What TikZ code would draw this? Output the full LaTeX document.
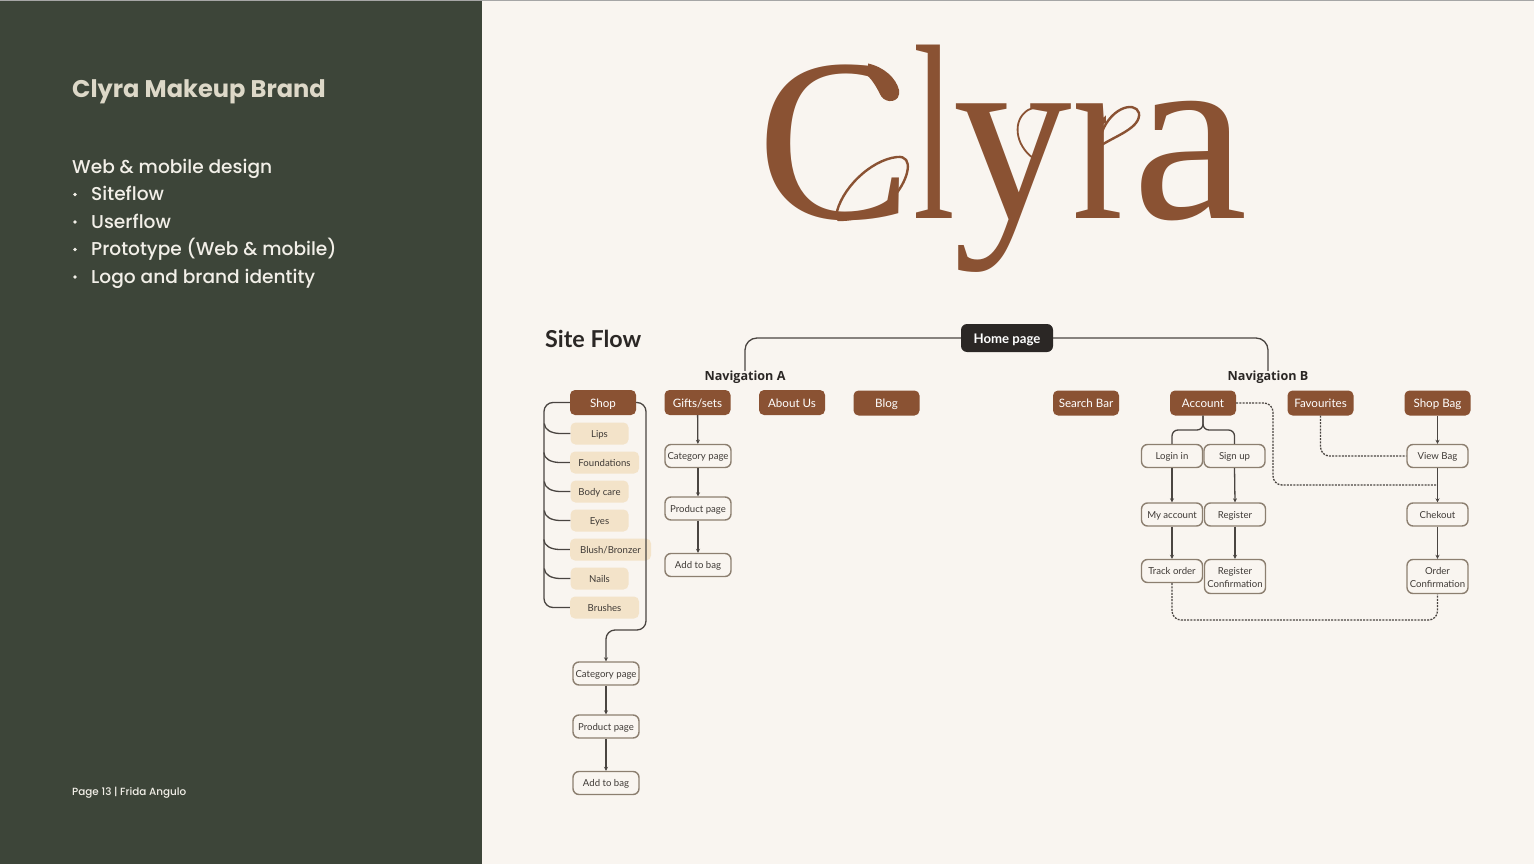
\documentclass[tikz,border=0pt]{standalone}
\usepackage{fontspec}
\usetikzlibrary{arrows.meta}
\setmainfont{Lato}
\newfontfamily\popf{Poppins}[UprightFont=* Medium,BoldFont=* Bold]
\newfontfamily\logof{Liberation Serif}
\newfontfamily\navf{Open Sans}[BoldFont=* Bold]
\definecolor{panel}{HTML}{3D4539}
\definecolor{paper}{HTML}{F9F5F0}
\definecolor{brownc}{HTML}{8A5233}
\definecolor{creamc}{HTML}{F3E3C9}
\definecolor{darkc}{HTML}{2B2725}
\definecolor{boxtxt}{HTML}{3F3A36}
\definecolor{linec}{HTML}{4A4541}
\definecolor{outl}{HTML}{8C7F70}
\definecolor{titlec}{HTML}{DDD8C8}
\definecolor{lefttxt}{HTML}{F2EFE8}
\tikzset{
  brownbox/.style={draw=none,fill=brownc,text=white,rounded corners=5pt,minimum width=66pt,minimum height=25pt,inner sep=0pt,text height=9.6pt,text depth=0pt,font=\fontsize{11.6}{14}\selectfont},
  creambox/.style={draw=none,fill=creamc,text=boxtxt,rounded corners=5pt,minimum height=22pt,inner sep=0pt,text height=7pt,text depth=0pt,font=\fontsize{9.6}{12}\selectfont},
  outframe/.style={draw=outl,line width=1.4pt,fill=paper,text=boxtxt,rounded corners=6pt,minimum width=66pt,minimum height=23pt,inner sep=0pt,font=\fontsize{9.6}{13}\selectfont},
  outbox/.style={outframe,text height=7pt,text depth=0pt},
  smallbox/.style={outbox,minimum width=61pt},
  tallbox/.style={outframe,minimum width=61pt,minimum height=34pt,align=center},
  homebox/.style={fill=darkc,text=white,rounded corners=6pt,minimum width=92pt,minimum height=28pt,inner sep=0pt,text height=11.2pt,text depth=0pt,font=\bfseries\fontsize{13.2}{16}\selectfont},
  navlabel/.style={inner sep=0pt,text=darkc,text height=9pt,text depth=0pt,font=\navf\bfseries\fontsize{12.6}{16}\selectfont},
  conn/.style={draw=linec,line width=1.3pt},
  arr/.style={conn,-{Stealth[length=4pt,width=4pt]}},
  dashc/.style={conn,dash pattern=on 2pt off 1.2pt},
  lefttext/.style={anchor=base west,inner sep=0pt,text=lefttxt,font=\popf\fontsize{18.6}{24}\selectfont},
  logostroke/.style={draw=brownc,line cap=round}
}
\begin{document}
\begin{tikzpicture}[x=1pt,y=-1pt]
\useasboundingbox (0,0) rectangle (1534,864);
\fill[paper] (0,0) rectangle (1534,864);
\fill[panel] (0,0) rectangle (481.5,864);
\fill[gray!70] (0,0) rectangle (1534,1.5);

% left panel
\node[lefttext,text=titlec,font=\popf\bfseries\fontsize{24.1}{28}\selectfont] (title) at (72,98) {Clyra Makeup Brand};
\node[lefttext] (lh) at (72,173.5) {Web \& mobile design};
\node[lefttext] (b1) at (91,200.5) {Siteflow};
\node[lefttext] (b2) at (91,228) {Userflow};
\node[lefttext] (b3) at (91,255.5) {Prototype (Web \& mobile)};
\node[lefttext] (b4) at (91,283.5) {Logo and brand identity};
\foreach \yy in {194.5,222,249.5,277}{\fill[lefttxt] (75,\yy) circle (1.8);}
\node[lefttext,font=\popf\fontsize{10.4}{14}\selectfont] (pg) at (72,795) {Page 13 | Frida Angulo};

% logo
\node[anchor=base west,inner sep=0pt,text=brownc] (logo) at (757,218) {\logof\fontsize{232}{250}\selectfont C\kern2pt\fontsize{250}{250}\selectfont\scalebox{0.6}[1]{l}\kern-2pt\scalebox{0.95}[1]{y}\kern0pt\scalebox{0.8}[1]{r}\kern-6pt\scalebox{1.04}[1]{a}};
% C: ball terminal in place of the serif
\fill[paper] (872,56) rectangle (908,112);
\fill[brownc] (868,63.5) .. controls (884,67) and (896,78) .. (899,90) .. controls (901,103) and (886,104) .. (881,96) .. controls (877,88) and (873,81) .. (868,76) -- cycle;
\draw[logostroke,line width=2.4pt] (836,216) .. controls (840,190) and (870,160) .. (897,157) .. controls (915,155) and (908,180) .. (895,195) .. controls (880,212) and (860,220) .. (838,220);
% y loop
\draw[logostroke,line width=1.8pt] (1033,158) .. controls (1015,145) and (1012,120) .. (1028,110) .. controls (1038,105) and (1050,107) .. (1062,107);
% r: loop in place of the ear
\fill[paper] (1106,100) rectangle (1141,137);
\draw[logostroke,line width=2.4pt] (1100,146) .. controls (1115,136) and (1141,128) .. (1139,113) .. controls (1135,100) and (1108,108) .. (1100,138);

% titles
\node[anchor=base west,inner sep=0pt,text=darkc,font=\bfseries\fontsize{23.3}{28}\selectfont] (sf) at (545,347) {Site Flow};
\node[homebox] (home) at (1007,338) {Home page};
\node[navlabel] (nava) at (745,375.5) {Navigation A};
\node[navlabel] (navb) at (1268,375.5) {Navigation B};

% top level
\node[brownbox] (shop) at (603,402.5) {Shop};
\node[brownbox] (gifts) at (697.5,402.5) {Gifts/sets};
\node[brownbox] (about) at (792,402.5) {About Us};
\node[brownbox] (blog) at (886.5,403) {Blog};
\node[brownbox] (search) at (1086,403) {Search Bar};
\node[brownbox] (account) at (1203,403) {Account};
\node[brownbox] (fav) at (1320.5,403) {Favourites};
\node[brownbox] (bag) at (1437.5,403) {Shop Bag};

% shop categories
\node[creambox,minimum width=58pt] (lips) at (599.5,433.5) {Lips};
\node[creambox,minimum width=69pt] (found) at (604.5,462.5) {Foundations};
\node[creambox,minimum width=58pt] (body) at (599.5,491.5) {Body care};
\node[creambox,minimum width=58pt] (eyes) at (599.5,520.5) {Eyes};
\node[creambox,minimum width=81pt] (blush) at (610.5,549.5) {Blush/Bronzer};
\node[creambox,minimum width=58pt] (nails) at (599.5,578.5) {Nails};
\node[creambox,minimum width=69pt] (brushes) at (604.5,607.5) {Brushes};

% gifts column
\node[outbox] (cat1) at (698,456) {Category page};
\node[outbox] (prod1) at (698,508.5) {Product page};
\node[outbox] (add1) at (698,565) {Add to bag};
% shop column
\node[outbox] (cat2) at (606,673.5) {Category page};
\node[outbox] (prod2) at (606,726.5) {Product page};
\node[outbox] (add2) at (606,783) {Add to bag};
% account
\node[smallbox] (login) at (1172,456) {Login in};
\node[smallbox] (signup) at (1234.5,456) {Sign up};
\node[smallbox] (myacc) at (1172,514.5) {My account};
\node[smallbox] (reg) at (1235,514.5) {Register};
\node[smallbox] (track) at (1172,571) {Track order};
\node[tallbox] (regc) at (1235,576.5) {\rule{0pt}{9.5pt}Register\\Confirmation};
% bag
\node[smallbox] (view) at (1437.5,456) {View Bag};
\node[smallbox] (chek) at (1437.5,514.5) {Chekout};
\node[tallbox] (order) at (1437.5,576.5) {\rule{0pt}{9.5pt}Order\\Confirmation};

% waypoints
\coordinate (trunk) at (544,402.5);
\coordinate (sr) at (646,630);
\coordinate (sl) at (606,630);
\coordinate (fork) at (1203,430);
\coordinate (acc1) at (1273,403);
\coordinate (acc2) at (1273,485);
\coordinate (acc3) at (1437.5,485);
\coordinate (tr) at (1172,620);

% connectors
\draw[conn,rounded corners=12pt] (home.west) -| (nava.north);
\draw[conn,rounded corners=12pt] (home.east) -| (navb.north);
\draw[conn,rounded corners=9pt] (shop.west) -- (trunk) |- (brushes.west);
\foreach \n in {lips,found,body,eyes,blush,nails}{
  \draw[conn] (\n.west) -- ++(-10,0) .. controls +(-9,0) and +(0,6) .. ++(-16,-10);
}
\draw[arr,rounded corners=9pt] (shop.east) -| (sr) -- (sl) -- (cat2.north);
\draw[arr] (cat2) -- (prod2);
\draw[arr] (prod2) -- (add2);
\draw[arr] (gifts) -- (cat1);
\draw[arr] (cat1) -- (prod1);
\draw[arr] (prod1) -- (add1);
\draw[conn,rounded corners=6pt] (account.south) -- (fork) -| (login.north);
\draw[conn,rounded corners=6pt] (account.south) -- (fork) -| (signup.north);
\draw[arr] (login) -- (myacc);
\draw[arr] (signup.south) -- (reg.north);
\draw[arr] (myacc) -- (track);
\draw[arr] (reg) -- (regc);
\draw[arr] (bag) -- (view);
\draw[arr] (view) -- (chek);
\draw[arr] (chek) -- (order);
\draw[dashc,rounded corners=9pt] (account.east) -- (acc1) -- (acc2) -- (acc3);
\draw[dashc,rounded corners=9pt] (fav.south) |- (view.west);
\draw[dashc,rounded corners=9pt] (track.south) -- (tr) -| (order.south);
\end{tikzpicture}
\end{document}
